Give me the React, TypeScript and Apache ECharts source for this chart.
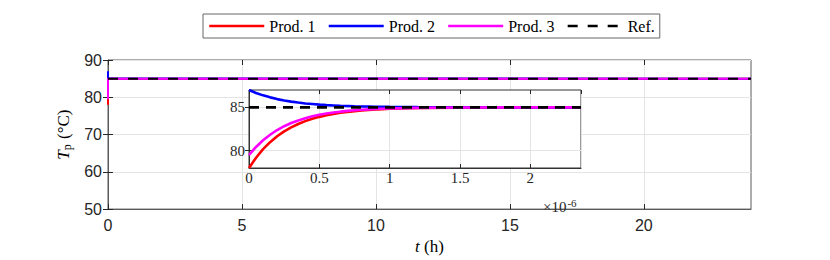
import React, { useEffect, useRef } from "react";
import * as echarts from "echarts";

// time points inside the inset, in units of 1e-6 h
const tInset = [0, 0.05, 0.1, 0.15, 0.2, 0.25, 0.3, 0.35, 0.4, 0.45, 0.5, 0.55, 0.6, 0.65, 0.7, 0.75, 0.8, 0.85, 0.9, 0.95, 1.0, 1.2, 1.5, 2.0, 2.36];
const prod1 = [78.0, 79.18, 80.17, 80.98, 81.66, 82.23, 82.69, 83.08, 83.41, 83.68, 83.9, 84.09, 84.24, 84.37, 84.48, 84.56, 84.64, 84.7, 84.75, 84.79, 84.83, 84.92, 84.97, 85.0, 85.0];
const prod2 = [87.0, 86.66, 86.38, 86.15, 85.95, 85.79, 85.66, 85.55, 85.45, 85.38, 85.31, 85.26, 85.22, 85.18, 85.15, 85.12, 85.1, 85.09, 85.07, 85.06, 85.05, 85.02, 85.01, 85.0, 85.0];
const prod3 = [79.5, 80.43, 81.2, 81.84, 82.38, 82.82, 83.19, 83.49, 83.75, 83.96, 84.14, 84.28, 84.4, 84.5, 84.59, 84.66, 84.72, 84.76, 84.8, 84.84, 84.86, 84.94, 84.98, 85.0, 85.0];
const refValue = 85;
const tEnd = 24; // h
const insetTEnd = 2.36; // ×1e-6 h
const seriesNames = ["Prod. 1", "Prod. 2", "Prod. 3", "Ref."];
const seriesColors = ["#ff0000", "#0000ff", "#ff00ff", "#000000"];
const mainYTicks = [50, 60, 70, 80, 90];
const mainXTicks = [0, 5, 10, 15, 20];
const insetYTicks = [80, 85];

const SERIF = "'Liberation Serif', 'Times New Roman', serif";
const SANS = "'Liberation Sans', Arial, sans-serif";
const AX = "#5a5a5a";
const TXT = "#262626";
const GRID = "#e4e4e4";

export default function App() {
  const ref = useRef<HTMLDivElement>(null);
  useEffect(() => {
    if (!ref.current) return;
    const chart = echarts.init(ref.current, undefined, { renderer: "svg" });
    const prods = [prod1, prod2, prod3];
    const mainData = prods.map((p) =>
      tInset.map((t, i) => [t * 1e-6, p[i]]).concat([[tEnd, p[p.length - 1]]])
    );
    const insetData = prods.map((p) => tInset.map((t, i) => [t, p[i]]));

    const tickStyle = { inside: true, length: 5, lineStyle: { color: TXT, width: 1 } };
    const axLine = { show: true, lineStyle: { color: AX, width: 1 } };

    const series: any[] = [];
    for (let k = 0; k < 3; k++) {
      series.push({
        name: seriesNames[k], type: "line", xAxisIndex: 0, yAxisIndex: 0,
        data: mainData[k], symbol: "none", color: seriesColors[k],
        lineStyle: { width: 2, color: seriesColors[k] }, z: 2,
      });
    }
    series.push({
      name: seriesNames[3], type: "line", xAxisIndex: 0, yAxisIndex: 0,
      data: [[0, refValue], [tEnd, refValue]], symbol: "none", color: "#000",
      lineStyle: { width: 2, color: "#000", type: [10, 10] }, z: 3,
    });
    for (let k = 0; k < 3; k++) {
      series.push({
        name: seriesNames[k], type: "line", xAxisIndex: 1, yAxisIndex: 1,
        data: insetData[k], symbol: "none",
        lineStyle: { width: 2.6, color: seriesColors[k] }, color: seriesColors[k], z: 7,
      });
    }
    series.push({
      name: seriesNames[3], type: "line", xAxisIndex: 1, yAxisIndex: 1,
      data: [[0, refValue], [insetTEnd, refValue]], symbol: "none",
      lineStyle: { width: 2.6, color: "#000", type: [10, 7] }, color: "#000", z: 8,
    });

    chart.setOption({
      animation: false,
      backgroundColor: "#fff",
      legend: {
        data: seriesNames.map((n) => ({ name: n })),
        left: 203, top: 14,
        padding: [4, 5, 4, 5],
        itemWidth: 55, itemHeight: 14, itemGap: 12,
        borderColor: "#666", borderWidth: 1,
        itemStyle: { opacity: 0 },
        lineStyle: { width: 2.5 },
        textStyle: { fontFamily: SERIF, fontSize: 16, color: "#000" },
        selectedMode: false,
      },
      grid: [
        { left: 108, top: 60, width: 643, height: 150, show: true, borderColor: AX, borderWidth: 1, backgroundColor: "transparent", z: 0 },
        { left: 249, top: 90, width: 332, height: 78, show: true, borderColor: "#333", borderWidth: 1, backgroundColor: "#fff", z: 5 },
      ],
      xAxis: [
        {
          type: "value", gridIndex: 0, min: 0, max: tEnd, interval: 5,
          axisLine: axLine, axisTick: { ...tickStyle, customValues: mainXTicks },
          axisLabel: { customValues: mainXTicks, color: TXT, fontFamily: SANS, fontSize: 16, margin: 8 },
          splitLine: { show: true, lineStyle: { color: GRID, width: 1 } },
          name: "{it|t} (h)", nameLocation: "middle", nameGap: 25,
          nameTextStyle: { fontFamily: SERIF, fontSize: 17, color: "#000", rich: { it: { fontFamily: SERIF, fontStyle: "italic", fontSize: 17 } } },
        },
        {
          type: "value", gridIndex: 1, min: 0, max: insetTEnd, interval: 0.5, z: 6,
          axisLine: { show: true, lineStyle: { color: "#333" } }, axisTick: { ...tickStyle, length: 4 },
          axisLabel: { color: TXT, fontFamily: SERIF, fontSize: 15, margin: 2, showMaxLabel: false },
          splitLine: { show: true, lineStyle: { color: GRID, width: 1 } },
        },
        {
          type: "value", gridIndex: 0, min: 0, max: tEnd, interval: 5, position: "top",
          axisLine: { show: false }, axisTick: { ...tickStyle, customValues: mainXTicks }, axisLabel: { show: false }, splitLine: { show: false },
        },
        {
          type: "value", gridIndex: 1, min: 0, max: insetTEnd, interval: 0.5, position: "top", z: 6,
          axisLine: { show: false }, axisTick: { ...tickStyle, length: 4 }, axisLabel: { show: false }, splitLine: { show: false },
        },
      ],
      yAxis: [
        {
          type: "value", gridIndex: 0, min: 50, max: 90, interval: 10,
          axisLine: axLine, axisTick: tickStyle,
          axisLabel: { customValues: mainYTicks, color: TXT, fontFamily: SANS, fontSize: 16, margin: 6 },
          splitLine: { show: true, lineStyle: { color: GRID, width: 1 } },
          name: "{it|T}{sub|p} (°C)", nameLocation: "middle", nameRotate: 90, nameGap: 34,
          nameTextStyle: {
            fontFamily: SERIF, fontSize: 17, color: "#000",
            rich: {
              it: { fontFamily: SERIF, fontStyle: "italic", fontSize: 17 },
              sub: { fontFamily: SERIF, fontSize: 12, padding: [8, 1, 0, 0] },
            },
          },
        },
        {
          type: "value", gridIndex: 1, min: 78, max: 87, z: 6,
          axisLine: { show: true, lineStyle: { color: "#333" } },
          axisTick: { ...tickStyle, length: 4, customValues: insetYTicks },
          axisLabel: { customValues: insetYTicks, color: TXT, fontFamily: SERIF, fontSize: 15, margin: 4 },
          splitLine: { show: true, lineStyle: { color: GRID, width: 1 } },
        },
        {
          type: "value", gridIndex: 0, min: 50, max: 90, interval: 10, position: "right",
          axisLine: { show: false }, axisTick: tickStyle, axisLabel: { show: false }, splitLine: { show: false },
        },
        {
          type: "value", gridIndex: 1, min: 78, max: 87, position: "right", z: 6,
          axisLine: { show: false }, axisTick: { ...tickStyle, length: 4, customValues: insetYTicks }, axisLabel: { show: false }, splitLine: { show: false },
        },
      ],
      graphic: [
        {
          type: "text", left: 543, top: 197, z: 10,
          style: {
            text: "×10{sup|-6}", fontFamily: SERIF, fontSize: 15, fill: TXT,
            rich: { sup: { fontFamily: SERIF, fontSize: 11, padding: [0, 0, 9, 1], fill: TXT } },
          },
        },
      ],
      series,
    });
    return () => chart.dispose();
  }, []);
  return (
    <div
      ref={ref}
      style={{ position: "absolute", left: 0, top: 0, width: 830, height: 260, background: "#fff" }}
    />
  );
}
